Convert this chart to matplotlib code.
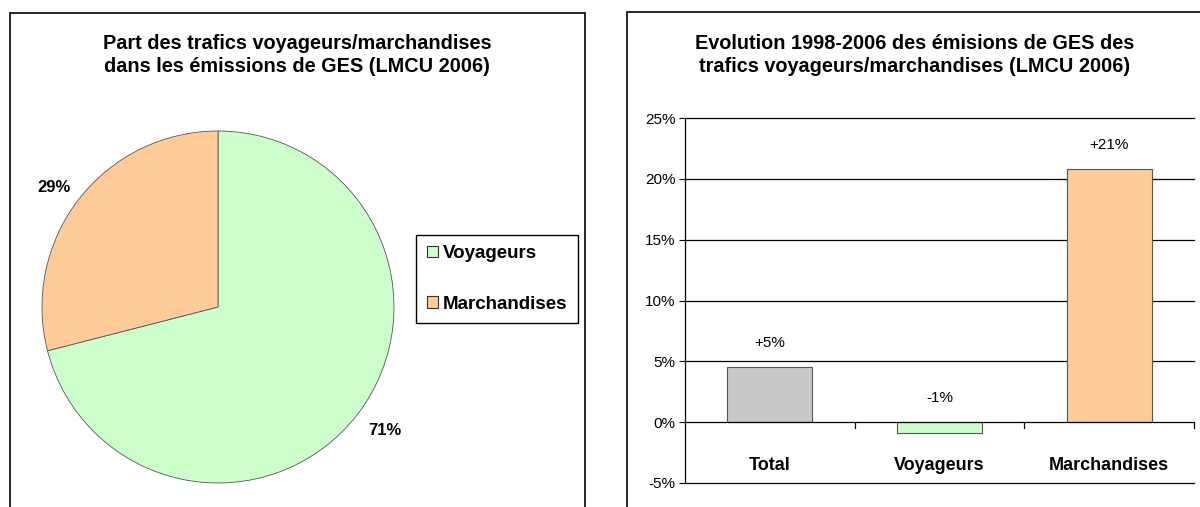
import matplotlib
matplotlib.use("Agg")
import matplotlib.pyplot as plt
from matplotlib.patches import Rectangle, Patch

plt.rcParams["font.family"] = ["Liberation Sans", "DejaVu Sans"]

# data
pie_labels = ["Voyageurs", "Marchandises"]
pie_shares = [71, 29]
pie_colors = ["#CCFFCC", "#FFCC99"]

bar_cats = ["Total", "Voyageurs", "Marchandises"]
bar_vals = [4.5, -0.9, 20.8]
bar_text = ["+5%", "-1%", "+21%"]
bar_colors = ["#C8C8C8", "#CCFFCC", "#FFCC99"]
y_ticks = [-5, 0, 5, 10, 15, 20, 25]

W, H = 1200, 507
fig = plt.figure(figsize=(12, 5.07), dpi=100)


def box(l, t, w, h):
    # pixel box (from top-left) -> figure fraction
    return [l / W, (H - t - h) / H, w / W, h / H]


# panel frames
fig.patches.append(Rectangle((10 / W, -0.2), 575 / W, 1.2 - 13 / H, transform=fig.transFigure,
                             fill=False, edgecolor="black", linewidth=1.2))
fig.patches.append(Rectangle((627 / W, -0.2), 0.6, 1.2 - 12 / H, transform=fig.transFigure,
                             fill=False, edgecolor="black", linewidth=1.2))

# ---------------- pie ----------------
ax1 = fig.add_axes(box(42, 131, 352, 352))
wedges, _ = ax1.pie(pie_shares, colors=pie_colors, startangle=90, counterclock=False,
                    radius=1, wedgeprops=dict(edgecolor="#555555", linewidth=0.6))
ax1.set_xlim(-1, 1)
ax1.set_ylim(-1, 1)
ax1.text(0.95, -0.7, f"{pie_shares[0]}%", fontsize=12, fontweight="bold", ha="center", va="center")
ax1.text(-0.93, 0.68, f"{pie_shares[1]}%", fontsize=12, fontweight="bold", ha="center", va="center")

fig.text(297 / W, 1 - 55 / H, "Part des trafics voyageurs/marchandises\ndans les émissions de GES (LMCU 2006)",
         ha="center", va="center", fontsize=14.3, fontweight="bold", linespacing=1.3)

handles = [Patch(facecolor=c, edgecolor="#333333", linewidth=0.8) for c in pie_colors]
leg = fig.legend(handles, pie_labels, loc="center", bbox_to_anchor=(497 / W, 1 - 279 / H),
                 fancybox=False, edgecolor="black", framealpha=1, prop=dict(weight="bold", size=13.5),
                 handlelength=0.6, handleheight=0.6, handletextpad=0.25, labelspacing=1.8,
                 borderpad=0.55, borderaxespad=0)
leg.get_frame().set_linewidth(1.0)

# ---------------- bars ----------------
ax2 = fig.add_axes(box(685, 118, 509, 365))
x = range(len(bar_cats))
ax2.bar(x, bar_vals, width=0.5, color=bar_colors, edgecolor="#555555", linewidth=0.8, zorder=3)
ax2.set_xlim(-0.5, 2.5)
ax2.set_ylim(-5, 25)
ax2.set_yticks(y_ticks)
ax2.set_yticklabels([f"{v}%" for v in y_ticks], fontsize=11)
ax2.tick_params(axis="y", direction="out", length=4, width=0.8, pad=3)
for v in y_ticks:
    if v != 0:
        ax2.axhline(v, color="black", linewidth=0.9, zorder=1, clip_on=False)
ax2.axhline(0, color="black", linewidth=0.9, zorder=4)
for xb in [0.5, 1.5, 2.5]:
    ax2.plot([xb, xb], [0, -0.45], color="black", linewidth=0.9, clip_on=False, zorder=4)
ax2.set_xticks([])
for s in ["top", "right", "bottom"]:
    ax2.spines[s].set_visible(False)
ax2.spines["left"].set_linewidth(0.9)

for i, (v, t) in enumerate(zip(bar_vals, bar_text)):
    ypos = v + 2 if v > 0 else 2
    ax2.text(i, ypos, t, ha="center", va="center", fontsize=11)
for i, c in enumerate(bar_cats):
    ax2.text(i, -3.55, c, ha="center", va="center", fontsize=13, fontweight="bold")

fig.text(915 / W, 1 - 55 / H, "Evolution 1998-2006 des émisions de GES des\ntrafics voyageurs/marchandises (LMCU 2006)",
         ha="center", va="center", fontsize=14.3, fontweight="bold", linespacing=1.3)

fig.savefig("out.png", dpi=100)
